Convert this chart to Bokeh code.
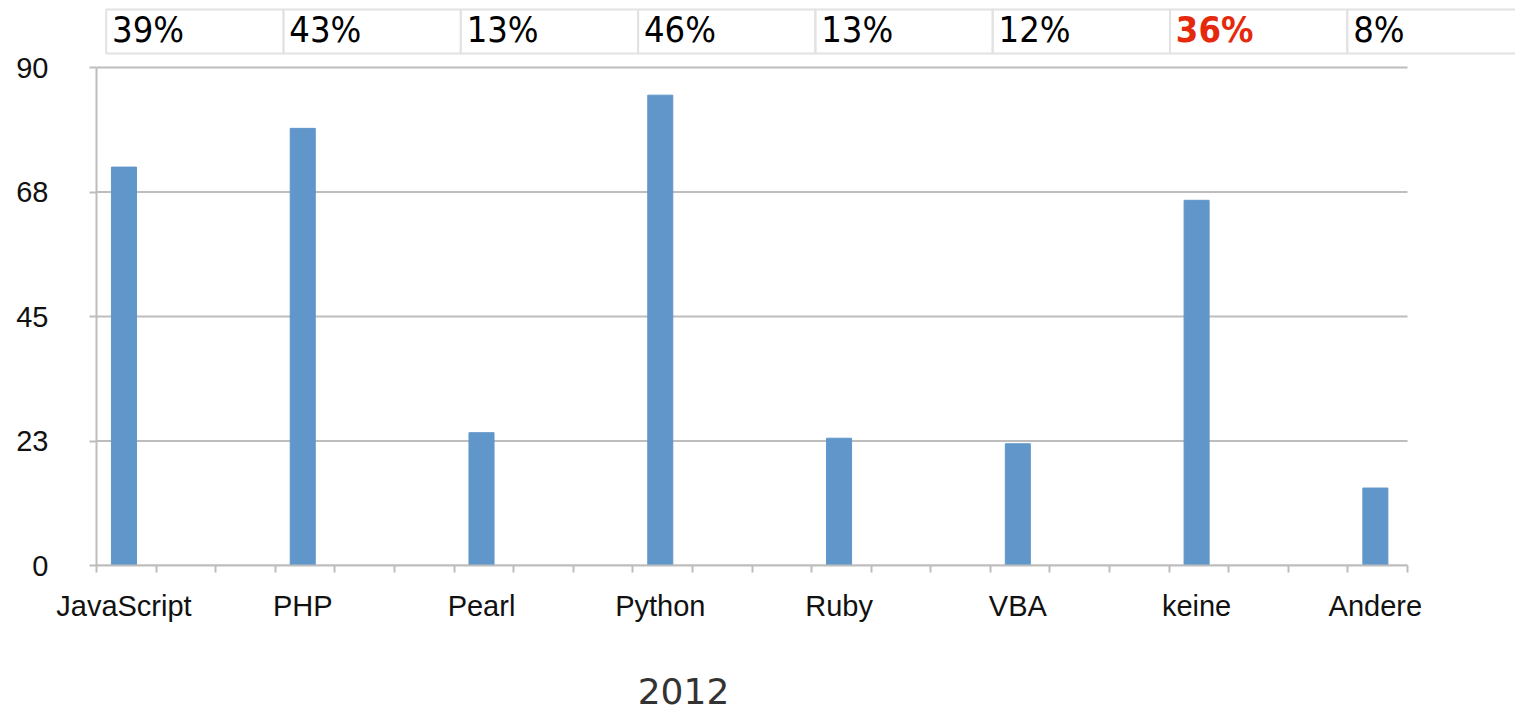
from bokeh.plotting import figure
from bokeh.models import Range1d, FixedTicker
from bokeh.layouts import column
from bokeh.embed import file_html
from bokeh.resources import INLINE
from bokeh.core.properties import value

# ---- data ----
categories = ["JavaScript", "PHP", "Pearl", "Python", "Ruby", "VBA", "keine", "Andere"]
counts = [72, 79, 24, 85, 23, 22, 66, 14]
shares = ["39%", "43%", "13%", "46%", "13%", "12%", "36%", "8%"]
highlight = "keine"
y_ticks = [0, 22.5, 45, 67.5, 90]
y_tick_labels = ["0", "23", "45", "68", "90"]
year_label = "2012"

# ---- styling / geometry ----
W = 1515
GRAY = "#bdbdbd"
BAR = "#6096c9"
LABEL_FONT = "Liberation Sans"
n = len(categories)
idx = list(range(n))

frame_left = 96          # px
frame_w = W - frame_left # frame runs to the right edge
axis_len = 1311          # px length of the drawn x axis
axis_units = 22 / 3      # category units covered by the x axis
x_start = -0.1536
step = 1 / 3
minor = [x_start + k * step for k in range(23)]
x_axis_end = x_start + 22 * step
x_frame_end = x_start + axis_units * frame_w / axis_len

axis_y_px = 565          # px of y = 0 (frame bottom)
top_px = 67              # px of y = 90
y_top = 90 * axis_y_px / (axis_y_px - top_px)

H_MAIN = 640
p = figure(width=W, height=H_MAIN, x_range=Range1d(x_start, x_frame_end),
           y_range=Range1d(0, y_top),
           min_border_left=frame_left, min_border_right=0, min_border_top=0,
           min_border_bottom=H_MAIN - axis_y_px,
           output_backend="svg", toolbar_location=None)
p.outline_line_color = None
p.grid.visible = False

# horizontal grid lines limited to the axis length
p.segment(x0=x_start, x1=x_axis_end, y0=y_ticks, y1=y_ticks,
          line_color=GRAY, line_width=2, level="underlay")

p.vbar(x=idx, top=counts, width=0.14, color=BAR)

xa = p.xaxis[0]
xa.bounds = (x_start, x_axis_end)
xa.ticker = FixedTicker(ticks=idx, minor_ticks=minor)
xa.major_label_overrides = {i: c for i, c in enumerate(categories)}
xa.major_tick_out = 0
xa.major_tick_in = 0
xa.minor_tick_out = 7
xa.minor_tick_in = 0
xa.minor_tick_line_color = GRAY
xa.minor_tick_line_width = 2
xa.axis_line_color = GRAY
xa.axis_line_width = 2
xa.major_label_text_font = LABEL_FONT
xa.major_label_text_font_size = "29px"
xa.major_label_text_color = "#111111"
xa.major_label_standoff = 17

ya = p.yaxis[0]
ya.bounds = (0, 90)
ya.ticker = FixedTicker(ticks=y_ticks)
ya.major_label_overrides = dict(zip(y_ticks, y_tick_labels))
ya.major_tick_out = 7
ya.major_tick_in = 0
ya.major_tick_line_color = GRAY
ya.major_tick_line_width = 2
ya.minor_tick_line_color = None
ya.axis_line_color = GRAY
ya.axis_line_width = 2
ya.major_label_text_font = LABEL_FONT
ya.major_label_text_font_size = "29px"
ya.major_label_text_color = "#111111"
ya.major_label_standoff = 41

# ---- percentage table row at the top (own ranges: cell units / px from top) ----
cell_w = 177.3
cell0_left = 105.7
t_start = (frame_left - cell0_left) / cell_w
p.extra_x_ranges = {"cells": Range1d(t_start, t_start + frame_w / cell_w)}
p.extra_y_ranges = {"px": Range1d(axis_y_px, 0)}

p.quad(left=idx, right=[i + 1 for i in idx], top=9, bottom=53,
       fill_color=None, line_color="#e2e2e2", line_width=2,
       x_range_name="cells", y_range_name="px")
colors = ["#e5290c" if c == highlight else "#000000" for c in categories]
styles = ["bold" if c == highlight else "normal" for c in categories]
p.text(x=[i + 0.033 for i in idx], y=29, text=shares,
       text_color=colors, text_font_style=styles,
       text_font=value("DejaVu Sans Condensed"), text_font_size="36px",
       text_baseline="middle", text_align="left",
       x_range_name="cells", y_range_name="px")

# ---- footer (year) ----
H_FOOT = 712 - H_MAIN
f = figure(width=W, height=H_FOOT, x_range=Range1d(frame_left, W), y_range=Range1d(712, H_MAIN),
           x_axis_type=None, y_axis_type=None, min_border=0,
           output_backend="svg", toolbar_location=None)
f.grid.visible = False
f.outline_line_color = None
f.text(x=[683], y=[690], text=[year_label], text_align="center", text_baseline="middle",
       text_font=value("DejaVu Sans"), text_font_size="36px", text_color="#333333")

layout = column(p, f, spacing=0)
open("out.html", "w").write(file_html(layout, INLINE))
